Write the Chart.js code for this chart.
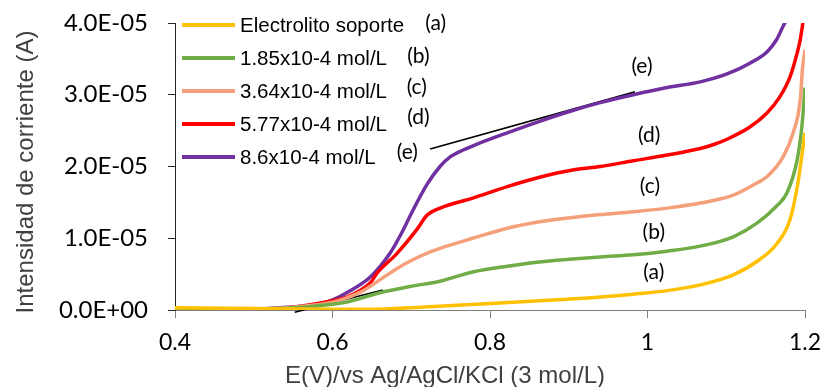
<!DOCTYPE html>
<html>
<head>
<meta charset="utf-8">
<script src="https://cdn.jsdelivr.net/npm/chart.js@4"></script>
<style>
  html, body { margin: 0; padding: 0; background: #fff; }
  canvas { display: block; }
</style>
</head>
<body>
<canvas id="myChart" width="822" height="387"></canvas>
<script>
// current values are in units of 1e-5 A
const UNIT = 1e-5;

const seriesLabels = ['Electrolito soporte', '1.85x10-4 mol/L', '3.64x10-4 mol/L', '5.77x10-4 mol/L', '8.6x10-4 mol/L'];
const seriesColors = ['#FFC000', '#70AD47', '#F4A07A', '#FF0000', '#7030A0'];

const xA = [0.40, 0.50, 0.60, 0.65, 0.711, 0.80, 0.898, 0.940, 0.982, 1.025, 1.067, 1.109, 1.142, 1.164, 1.181, 1.191, 1.197, 1.200];
const yA = [0.03, 0.02, 0.01, 0.01, 0.04, 0.09, 0.15, 0.18, 0.22, 0.27, 0.35, 0.49, 0.70, 0.92, 1.26, 1.77, 2.23, 2.47];

const xB = [0.40, 0.50, 0.55, 0.60, 0.618, 0.66, 0.70, 0.7365, 0.778, 0.822, 0.863, 0.905, 0.940, 0.982, 1.025, 1.067, 1.109, 1.139, 1.164, 1.177, 1.190, 1.196, 1.200];
const yB = [0, 0.01, 0.03, 0.08, 0.11, 0.24, 0.33, 0.40, 0.53, 0.61, 0.67, 0.71, 0.74, 0.77, 0.82, 0.89, 1.02, 1.21, 1.45, 1.63, 2.09, 2.55, 3.10];

const xC = [0.40, 0.50, 0.55, 0.60, 0.618, 0.639, 0.66, 0.682, 0.702, 0.724, 0.7365, 0.778, 0.822, 0.863, 0.905, 0.940, 0.982, 1.025, 1.067, 1.109, 1.139, 1.152, 1.172, 1.185, 1.194, 1.197, 1.200];
const yC = [0, 0.01, 0.04, 0.11, 0.17, 0.27, 0.42, 0.58, 0.70, 0.81, 0.86, 1.00, 1.14, 1.23, 1.29, 1.33, 1.37, 1.42, 1.49, 1.60, 1.77, 1.86, 2.13, 2.47, 2.93, 3.39, 3.63];

const xD = [0.40, 0.50, 0.55, 0.60, 0.618, 0.648, 0.657, 0.682, 0.707, 0.720, 0.7365, 0.778, 0.822, 0.863, 0.905, 0.940, 0.982, 1.025, 1.067, 1.085, 1.101, 1.130, 1.152, 1.168, 1.181, 1.190, 1.194, 1.198];
const yD = [0, 0.01, 0.04, 0.13, 0.18, 0.38, 0.52, 0.79, 1.12, 1.32, 1.42, 1.56, 1.72, 1.85, 1.95, 2.00, 2.08, 2.16, 2.25, 2.31, 2.38, 2.55, 2.75, 2.97, 3.25, 3.58, 3.77, 4.05];

const xE = [0.40, 0.50, 0.533, 0.575, 0.60, 0.618, 0.648, 0.673, 0.690, 0.698, 0.720, 0.7365, 0.749, 0.766, 0.783, 0.822, 0.863, 0.905, 0.940, 0.982, 1.025, 1.067, 1.101, 1.130, 1.152, 1.164, 1.172, 1.180];
const yE = [0, 0.01, 0.03, 0.07, 0.14, 0.24, 0.46, 0.79, 1.12, 1.30, 1.75, 2.00, 2.13, 2.23, 2.31, 2.47, 2.63, 2.78, 2.89, 3.00, 3.10, 3.18, 3.29, 3.44, 3.60, 3.77, 3.95, 4.12];

// tangent lines (black)
const tangent1X = [0.552, 0.664];
const tangent1Y = [-0.03, 0.28];
const tangent2X = [0.724, 0.984];
const tangent2Y = [2.245, 3.04];

// "(a)".."(e)" labels: text, x (V), y (1e-5 A)
const labelTexts = ['(a)', '(b)', '(c)', '(d)', '(e)', '(e)', '(d)', '(c)', '(b)', '(a)'];
const labelX = [0.731, 0.709, 0.707, 0.709, 0.695, 0.993, 1.002, 1.003, 1.008, 1.008];
const labelY = [3.99, 3.54, 3.10, 2.68, 2.20, 3.40, 2.44, 1.73, 1.09, 0.53];

const xTicks = [0.4, 0.6, 0.8, 1.0, 1.2];

const toPoints = (xs, ys) => xs.map((x, i) => ({ x: x, y: ys[i] * UNIT }));

const sci = function(v) {
    if (Math.abs(v) < 1e-12) return '0.0E+00';
    const parts = v.toExponential(1).split('e');
    const n = parseInt(parts[1], 10);
    return parts[0] + 'E' + (n < 0 ? '-' : '+') + String(Math.abs(n)).padStart(2, '0');
};

const curves = [[xA, yA], [xB, yB], [xC, yC], [xD, yD], [xE, yE]];
const datasets = curves.map((c, i) => ({
    label: seriesLabels[i],
    data: toPoints(c[0], c[1]),
    borderColor: seriesColors[i],
    backgroundColor: seriesColors[i],
    borderWidth: 3.5,
    pointRadius: 0,
    fill: false,
    cubicInterpolationMode: 'monotone',
}));
[[tangent1X, tangent1Y], [tangent2X, tangent2Y]].forEach(t => {
    datasets.push({
        label: '',
        data: toPoints(t[0], t[1]),
        borderColor: '#000000',
        borderWidth: 1.6,
        pointRadius: 0,
        fill: false,
        clip: 6,
    });
});

const extrasPlugin = {
    id: 'extras',
    afterDraw(chart) {
        const ctx = chart.ctx;
        const area = chart.chartArea;
        const xs = chart.scales.x, ys = chart.scales.y;
        ctx.save();
        // legend
        ctx.font = '20.5px "Liberation Sans", Arial, sans-serif';
        ctx.textBaseline = 'middle';
        ctx.textAlign = 'left';
        for (let i = 0; i < seriesLabels.length; i++) {
            const y = area.top + 2 + i * 33;
            ctx.strokeStyle = seriesColors[i];
            ctx.lineWidth = 4;
            ctx.beginPath();
            ctx.moveTo(area.left + 7, y);
            ctx.lineTo(area.left + 60, y);
            ctx.stroke();
            ctx.fillStyle = '#000000';
            ctx.fillText(seriesLabels[i], area.left + 65, y + 1);
        }
        // curve labels
        ctx.font = '21px Lato, sans-serif';
        ctx.textAlign = 'center';
        labelTexts.forEach((t, i) => {
            ctx.fillText(t, xs.getPixelForValue(labelX[i]), ys.getPixelForValue(labelY[i] * UNIT));
        });
        // axis titles
        ctx.fillStyle = '#404040';
        ctx.font = '24px "Liberation Sans", Arial, sans-serif';
        ctx.textBaseline = 'alphabetic';
        ctx.fillText('E(V)/vs Ag/AgCl/KCl (3 mol/L)', 445, 383);
        ctx.translate(33, 172);
        ctx.rotate(-Math.PI / 2);
        ctx.fillText('Intensidad de corriente (A)', 0, 0);
        ctx.restore();
    }
};

const canvas = document.getElementById('myChart');
const myChart = new Chart(canvas, {
    type: 'line',
    data: { datasets },
    options: {
        responsive: false,
        animation: false,
        devicePixelRatio: 1,
        layout: { padding: { top: 23, right: 17, left: 0, bottom: 0 } },
        plugins: {
            legend: { display: false },
            tooltip: { enabled: false },
        },
        scales: {
            x: {
                type: 'linear',
                min: 0.4,
                max: 1.2,
                afterFit: s => { s.height = 77; s.paddingLeft = 0; s.paddingRight = 0; },
                afterBuildTicks: s => { s.ticks = xTicks.map(v => ({ value: v })); },
                ticks: {
                    callback: v => String(Number(v.toFixed(1))),
                    color: '#000000',
                    font: { family: 'Lato', size: 23 },
                    padding: 11,
                    maxRotation: 0,
                },
                grid: { display: true, drawOnChartArea: false, drawTicks: true, tickLength: 8, color: '#7f7f7f', lineWidth: 1 },
                border: { display: true, color: '#7f7f7f', width: 1 },
            },
            y: {
                min: 0,
                max: 4 * UNIT,
                afterFit: s => { s.width = 175; s.paddingTop = 0; s.paddingBottom = 0; },
                ticks: {
                    stepSize: UNIT,
                    callback: v => sci(v),
                    color: '#000000',
                    font: { family: 'Lato', size: 24 },
                    padding: 20,
                },
                grid: { display: true, drawOnChartArea: false, drawTicks: true, tickLength: 7, color: '#262626', lineWidth: 1 },
                border: { display: true, color: '#262626', width: 1 },
            },
        },
    },
    plugins: [extrasPlugin],
});
</script>
</body>
</html>
